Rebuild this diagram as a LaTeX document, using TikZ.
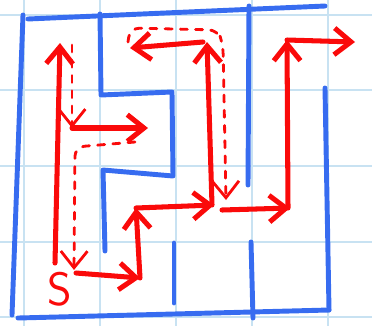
\documentclass[tikz,border=0pt]{standalone}
\usetikzlibrary{arrows.meta}
\definecolor{wallblue}{RGB}{55,108,240}
\definecolor{gridblue}{RGB}{200,226,242}
\definecolor{pathred}{RGB}{250,10,10}
\begin{document}
\begin{tikzpicture}[x=0.03cm,y=-0.03cm,
    >={Straight Barb[length=5mm,width=8mm]},
    wall/.style={wallblue,line width=4.2pt,line cap=round,line join=round},
    walk/.style={pathred,line width=4.3pt,line cap=round,line join=round,->},
    back/.style={walk,dash pattern=on 6pt off 7pt,line width=2.4pt,rounded corners=8pt}]
    \useasboundingbox (0,0) rectangle (372,326);
    % grid paper
    \foreach \xx in {24,100,176,252,328} { \draw[gridblue,line width=1.4pt] (\xx,0) -- (\xx,326); }
    \foreach \yy in {15,90,166,242,317} { \draw[gridblue,line width=1.4pt] (0,\yy) -- (372,\yy); }
    % maze walls
    \draw[wall] (28,19) -- (325,6);
    \draw[wall] (23,15) -- (12,315);
    \draw[wall] (18,318) -- (329,310);
    \draw[wall] (100,14) -- (101,95) -- (172,92) -- (173,176) -- (103,170) -- (105,251);
    \draw[wall] (174,243) -- (174,303);
    \draw[wall] (249,6) -- (248,185);
    \draw[wall] (251,242) -- (253,318);
    \draw[wall] (325,88) -- (329,310);
    % points of the walk
    \coordinate (start) at (55,263);
    \coordinate (topleft) at (60,43);
    \coordinate (fork) at (72,128);
    \coordinate (deadend) at (148,128);
    \coordinate (home) at (76,273);
    \coordinate (low) at (140,278);
    \coordinate (step1) at (136,208);
    \coordinate (step2) at (214,205);
    \coordinate (up1) at (207,42);
    \coordinate (pocket) at (130,48);
    \coordinate (step3) at (222,210);
    \coordinate (step4) at (290,208);
    \coordinate (up2) at (287,40);
    \coordinate (exit) at (355,42);
    % the walk
    \draw[walk] (start) -- (topleft);
    \draw[back] (72,45) -- (fork);
    \draw[walk] (fork) -- (deadend);
    \draw[back] (135,142) -- (75,147) -- (74,270);
    \draw[walk] (home) -- (low);
    \draw[walk] (low) -- (step1);
    \draw[walk] (step1) -- (step2);
    \draw[walk] (212,205) -- (up1);
    \draw[walk] (203,42) -- (pocket);
    \draw[back] (128,42) -- (130,28) -- (218,30) -- (223,45) -- (226,200);
    \draw[walk] (step3) -- (step4);
    \draw[walk] (288,208) -- (up2);
    \draw[walk] (up2) -- (exit);
    \node[pathred,font=\sffamily\fontsize{40}{40}\selectfont] (s) at (60,289) {S};
\end{tikzpicture}
\end{document}
